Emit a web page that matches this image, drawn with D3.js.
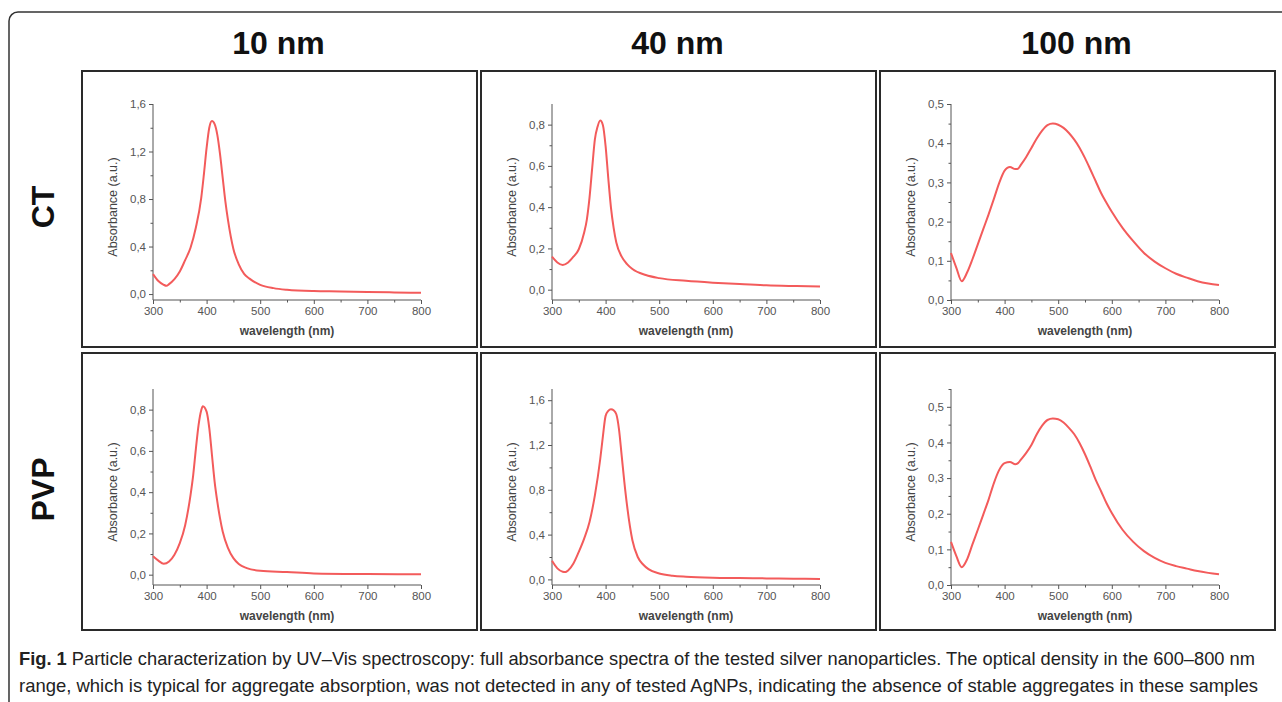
<!DOCTYPE html>
<html>
<head>
<meta charset="utf-8">
<script src="https://cdn.jsdelivr.net/npm/d3@7"></script>
<style>
  html, body { margin: 0; padding: 0; background: #fff; }
  svg { display: block; }
  .tick text { font-family: "Liberation Sans", Arial, sans-serif; }
</style>
</head>
<body>
<div id="chart"></div>
<script>
// ==== DATA ====
const COL_LABELS = ["10 nm", "40 nm", "100 nm"];
const ROW_LABELS = ["CT", "PVP"];

// [wavelength (nm), absorbance (a.u.)]
const ct10 = [[300,0.168],[310,0.11],[320,0.078],[325,0.07],[330,0.084],[340,0.126],[350,0.19],[360,0.286],[370,0.39],[380,0.56],[390,0.81],[395,1.01],[400,1.23],[405,1.40],[410,1.456],[415,1.43],[420,1.34],[425,1.18],[430,0.98],[435,0.78],[440,0.62],[450,0.38],[460,0.25],[470,0.17],[480,0.13],[500,0.078],[525,0.05],[550,0.036],[600,0.025],[650,0.022],[700,0.017],[750,0.014],[800,0.01]];
const ct40 = [[300,0.16],[310,0.132],[320,0.12],[330,0.132],[340,0.16],[350,0.196],[360,0.277],[365,0.34],[370,0.446],[375,0.59],[380,0.728],[385,0.79],[390,0.82],[395,0.797],[400,0.696],[405,0.54],[410,0.398],[415,0.30],[420,0.229],[430,0.16],[440,0.124],[450,0.10],[475,0.071],[500,0.056],[550,0.043],[600,0.034],[650,0.027],[700,0.021],[750,0.018],[800,0.016]];
const ct100 = [[300,0.12],[310,0.082],[320,0.048],[330,0.07],[340,0.104],[350,0.142],[360,0.18],[370,0.218],[380,0.258],[390,0.299],[400,0.33],[405,0.337],[410,0.339],[420,0.334],[425,0.335],[430,0.344],[440,0.364],[450,0.388],[460,0.412],[470,0.432],[480,0.446],[490,0.45],[500,0.447],[510,0.439],[520,0.426],[530,0.409],[540,0.388],[550,0.362],[560,0.333],[570,0.303],[580,0.273],[590,0.248],[600,0.225],[620,0.184],[640,0.15],[660,0.12],[680,0.098],[700,0.081],[720,0.067],[740,0.057],[760,0.048],[780,0.042],[800,0.038]];
const pvp10 = [[300,0.089],[310,0.068],[320,0.053],[330,0.064],[340,0.097],[350,0.153],[360,0.24],[370,0.386],[375,0.483],[380,0.61],[385,0.725],[390,0.797],[393,0.816],[400,0.79],[405,0.71],[410,0.58],[415,0.45],[420,0.354],[425,0.274],[430,0.209],[440,0.129],[450,0.08],[460,0.052],[475,0.032],[500,0.019],[550,0.013],[600,0.006],[700,0.003],[800,0.002]];
const pvp40 = [[300,0.166],[310,0.098],[320,0.068],[325,0.065],[330,0.08],[340,0.142],[350,0.246],[360,0.364],[370,0.513],[380,0.75],[390,1.075],[395,1.28],[400,1.46],[405,1.505],[410,1.52],[415,1.51],[420,1.475],[425,1.34],[430,1.105],[435,0.868],[440,0.66],[450,0.35],[460,0.2],[470,0.133],[480,0.092],[500,0.053],[525,0.033],[550,0.024],[600,0.015],[650,0.012],[700,0.009],[750,0.006],[800,0.004]];
const pvp100 = [[300,0.121],[310,0.081],[320,0.05],[330,0.072],[340,0.114],[350,0.155],[360,0.197],[370,0.239],[380,0.286],[390,0.323],[400,0.342],[410,0.345],[420,0.339],[425,0.342],[430,0.351],[440,0.37],[450,0.393],[460,0.423],[470,0.447],[480,0.463],[490,0.467],[500,0.465],[510,0.456],[520,0.441],[530,0.423],[540,0.398],[550,0.367],[560,0.332],[570,0.295],[580,0.263],[590,0.23],[600,0.202],[620,0.155],[640,0.121],[660,0.095],[680,0.076],[700,0.062],[720,0.053],[740,0.046],[760,0.039],[780,0.034],[800,0.03]];

// y-axis ranges and tick steps per panel
const Y_DOMAINS = [[-0.05, 1.6], [-0.05, 0.9], [0, 0.5], [-0.05, 0.9], [-0.05, 1.7], [0, 0.55]];
const Y_MAJOR = [[0, 0.4, 0.8, 1.2, 1.6], [0, 0.2, 0.4, 0.6, 0.8], [0, 0.1, 0.2, 0.3, 0.4, 0.5],
                 [0, 0.2, 0.4, 0.6, 0.8], [0, 0.4, 0.8, 1.2, 1.6], [0, 0.1, 0.2, 0.3, 0.4, 0.5]];
const Y_MINOR = [[0.2, 0.6, 1.0, 1.4], [0.1, 0.3, 0.5, 0.7], [0.05, 0.15, 0.25, 0.35, 0.45],
                 [0.1, 0.3, 0.5, 0.7], [0.2, 0.6, 1.0, 1.4], [0.05, 0.15, 0.25, 0.35, 0.45, 0.55]];
const X_MAJOR = [300, 400, 500, 600, 700, 800];
const X_MINOR = [350, 450, 550, 650, 750];

const SERIES = [ct10, ct40, ct100, pvp10, pvp40, pvp100];

const CAPTION_1 = " Particle characterization by UV\u2013Vis spectroscopy: full absorbance spectra of the tested silver nanoparticles. The optical density in the 600\u2013800 nm";
const CAPTION_2 = "range, which is typical for aggregate absorption, was not detected in any of tested AgNPs, indicating the absence of stable aggregates in these samples";

// ==== LAYOUT ====
const width = 1282, height = 702;
const panelX = [82, 481, 880];
const panelW = 395;
const rowY = [[71, 347], [353, 630]];
const plotTop = [104, 389];
const plotAxis = [300, 585];
const font = "'Liberation Sans', Arial, sans-serif";
const lineColor = "#f35b5b";
const axisColor = "#555";

const svg = d3.select("#chart").append("svg")
  .attr("width", width)
  .attr("height", height);

svg.append("rect").attr("width", width).attr("height", height).attr("fill", "#fff");

// outer frame (runs off the right/bottom edge)
svg.append("rect")
  .attr("x", 9).attr("y", 12)
  .attr("width", 1320).attr("height", 760)
  .attr("rx", 9)
  .attr("fill", "none")
  .attr("stroke", "#333")
  .attr("stroke-width", 1.5);

// column headers
COL_LABELS.forEach((t, i) => {
  svg.append("text")
    .attr("x", panelX[i] + panelW / 2 - 1)
    .attr("y", 54)
    .attr("text-anchor", "middle")
    .attr("font-family", font)
    .attr("font-weight", "bold")
    .attr("font-size", 32)
    .attr("fill", "#111")
    .text(t);
});

// row labels
ROW_LABELS.forEach((t, r) => {
  const cy = (rowY[r][0] + rowY[r][1]) / 2 - 2;
  svg.append("text")
    .attr("transform", `translate(54,${cy}) rotate(-90)`)
    .attr("text-anchor", "middle")
    .attr("font-family", font)
    .attr("font-weight", "bold")
    .attr("font-size", 32)
    .attr("fill", "#111")
    .text(t);
});

const fmt = v => d3.format(".1f")(v).replace(".", ",");

SERIES.forEach((data, k) => {
  const r = Math.floor(k / 3), c = k % 3;
  const px = panelX[c];
  const [py0, py1] = rowY[r];

  // panel box
  svg.append("rect")
    .attr("x", px).attr("y", py0)
    .attr("width", panelW).attr("height", py1 - py0)
    .attr("fill", "#fff")
    .attr("stroke", "#2a2a2a")
    .attr("stroke-width", 2);

  const x0 = px + 71, x1 = px + 339;
  const x = d3.scaleLinear().domain([300, 800]).range([x0, x1]);
  const y = d3.scaleLinear().domain(Y_DOMAINS[k]).range([plotAxis[r], plotTop[r]]);

  const g = svg.append("g");

  // x axis
  const gx = g.append("g").attr("transform", `translate(0,${plotAxis[r]})`);
  gx.call(d3.axisBottom(x).tickValues(X_MAJOR).tickSize(4).tickPadding(3).tickFormat(d3.format("d")));
  gx.append("g").call(d3.axisBottom(x).tickValues(X_MINOR).tickSize(2.5).tickFormat(""))
    .select(".domain").remove();

  // y axis
  const gy = g.append("g").attr("transform", `translate(${x0},0)`);
  gy.call(d3.axisLeft(y).tickValues(Y_MAJOR[k]).tickSize(4).tickPadding(3).tickFormat(fmt));
  gy.append("g").call(d3.axisLeft(y).tickValues(Y_MINOR[k]).tickSize(2.5).tickFormat(""))
    .select(".domain").remove();

  // flat axis lines without end caps
  gx.select(".domain").attr("stroke", axisColor).attr("d", `M${x0},0H${x1}`);
  gy.select(".domain").attr("stroke", axisColor).attr("d", `M0,${plotTop[r]}V${plotAxis[r]}`);
  g.selectAll(".tick line").attr("stroke", axisColor);
  g.selectAll(".tick text")
    .attr("fill", "#555")
    .attr("font-size", 11.5);

  // axis titles
  g.append("text")
    .attr("x", (x0 + x1) / 2)
    .attr("y", plotAxis[r] + 35)
    .attr("text-anchor", "middle")
    .attr("font-family", font)
    .attr("font-weight", "bold")
    .attr("font-size", 12)
    .attr("fill", "#444")
    .text("wavelength (nm)");

  g.append("text")
    .attr("transform", `translate(${px + 35},${(plotTop[r] + plotAxis[r]) / 2 + 5}) rotate(-90)`)
    .attr("text-anchor", "middle")
    .attr("font-family", font)
    .attr("font-size", 12.5)
    .attr("fill", "#444")
    .text("Absorbance (a.u.)");

  // spectrum
  const line = d3.line()
    .x(d => x(d[0]))
    .y(d => y(d[1]))
    .curve(d3.curveMonotoneX);

  g.append("path")
    .datum(data)
    .attr("fill", "none")
    .attr("stroke", lineColor)
    .attr("stroke-width", 2)
    .attr("stroke-linejoin", "round")
    .attr("d", line);
});

// caption
const capFont = "'Liberation Sans Narrow', 'Liberation Sans', Arial, sans-serif";
const cap1 = svg.append("text")
  .attr("x", 19).attr("y", 665)
  .attr("font-family", capFont)
  .attr("font-size", 18.5)
  .attr("fill", "#222")
  .attr("textLength", 1236)
  .attr("lengthAdjust", "spacingAndGlyphs");
cap1.append("tspan").attr("font-weight", "bold").text("Fig. 1");
cap1.append("tspan").text(CAPTION_1);

svg.append("text")
  .attr("x", 19).attr("y", 692)
  .attr("font-family", capFont)
  .attr("font-size", 18.5)
  .attr("fill", "#222")
  .attr("textLength", 1239)
  .attr("lengthAdjust", "spacingAndGlyphs")
  .text(CAPTION_2);
</script>
</body>
</html>
